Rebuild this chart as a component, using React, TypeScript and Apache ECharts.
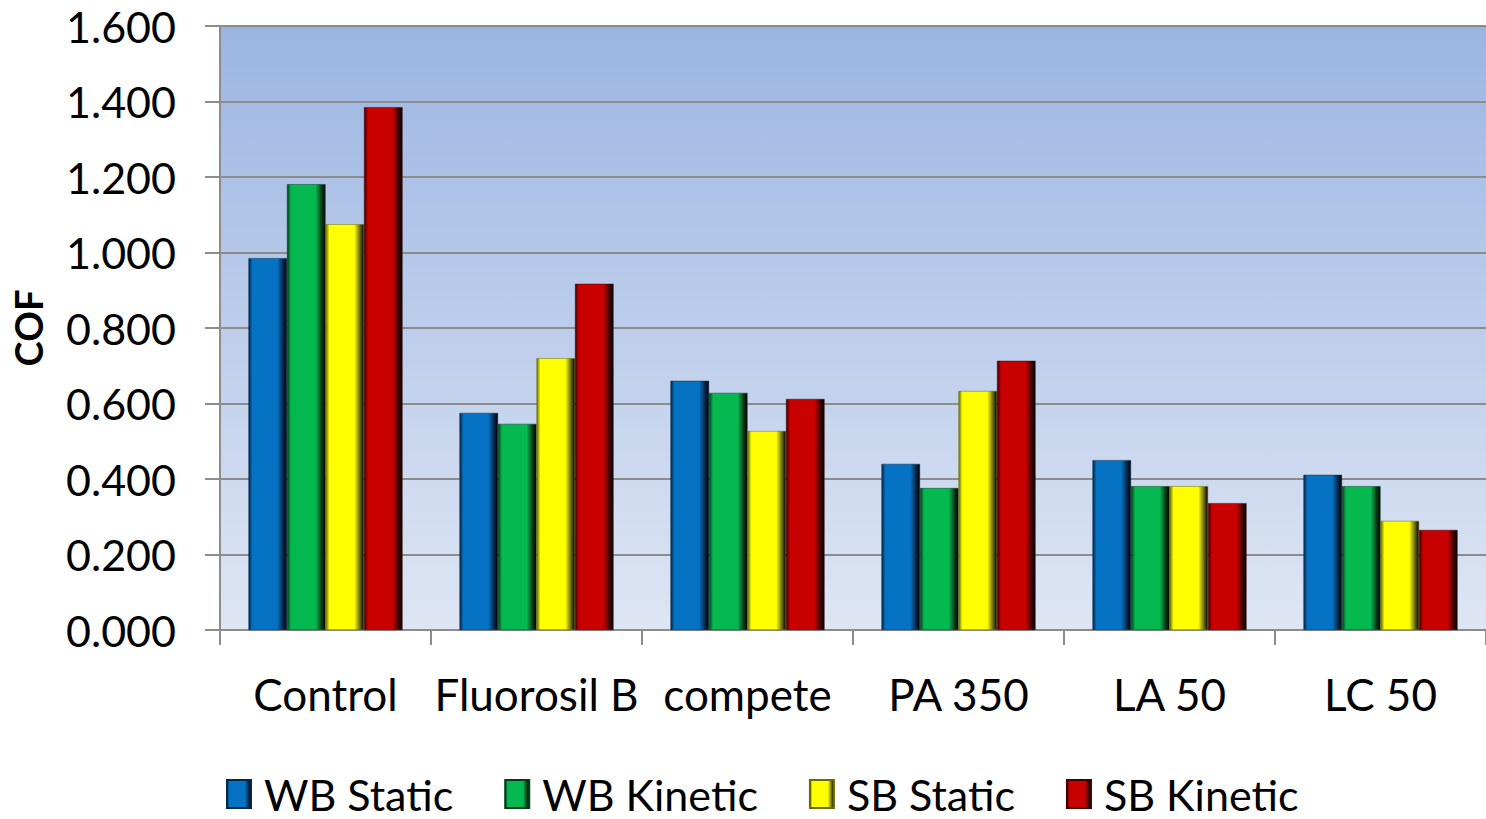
import React, { useEffect, useRef } from "react";
import * as echarts from "echarts";

const categories = ["Control", "Fluorosil B", "compete", "PA 350", "LA 50", "LC 50"];
const seriesNames = ["WB Static", "WB Kinetic", "SB Static", "SB Kinetic"];
const wbStatic = [0.985, 0.575, 0.66, 0.44, 0.45, 0.411];
const wbKinetic = [1.181, 0.546, 0.628, 0.376, 0.381, 0.381];
const sbStatic = [1.075, 0.72, 0.527, 0.633, 0.381, 0.289];
const sbKinetic = [1.385, 0.917, 0.612, 0.713, 0.336, 0.265];
const yTicks = [0, 0.2, 0.4, 0.6, 0.8, 1.0, 1.2, 1.4, 1.6];

const palette = [
  { base: "#0572C4", light: "#2a9cf0", dark: "#02284a" },
  { base: "#05B850", light: "#2ee07a", dark: "#013d1a" },
  { base: "#FFFF00", light: "#ffff80", dark: "#6b6b00" },
  { base: "#C80000", light: "#f03030", dark: "#400000" },
];

function barFill(p: { base: string; light: string; dark: string }) {
  return new echarts.graphic.LinearGradient(0, 0, 1, 0, [
    { offset: 0, color: p.dark },
    { offset: 0.1, color: p.base },
    { offset: 0.75, color: p.base },
    { offset: 0.9, color: p.dark },
    { offset: 1, color: "#000000" },
  ]);
}

export default function App() {
  const ref = useRef<HTMLDivElement>(null);
  useEffect(() => {
    if (!ref.current) return;
    const chart = echarts.init(ref.current, undefined, { renderer: "svg" });
    const font = "Lato, 'Open Sans', sans-serif";
    const data = [wbStatic, wbKinetic, sbStatic, sbKinetic];
    chart.setOption({
      animation: false,
      backgroundColor: "#ffffff",
      textStyle: { fontFamily: font },
      grid: {
        left: 220,
        right: 0,
        top: 26,
        bottom: 189,
        show: true,
        borderWidth: 0,
        backgroundColor: new echarts.graphic.LinearGradient(0, 0, 0, 1, [
          { offset: 0, color: "#9BB5E2" },
          { offset: 1, color: "#DEE6F4" },
        ]),
      },
      legend: {
        bottom: 2,
        left: 226,
        padding: 0,
        icon: "rect",
        itemWidth: 24,
        itemHeight: 28,
        itemGap: 51,
        data: seriesNames,
        textStyle: { fontSize: 43, lineHeight: 46, color: "#000", fontFamily: font, padding: [0, 0, 0, 8] },
      },
      xAxis: {
        type: "category",
        data: categories,
        axisLine: { show: true, lineStyle: { color: "#8c8c8c", width: 2 } },
        axisTick: { show: true, interval: 0, length: 15, lineStyle: { color: "#8c8c8c", width: 2 } },
        axisLabel: { interval: 0, fontSize: 44, color: "#000", margin: 42, fontFamily: font },
      },
      yAxis: {
        type: "value",
        min: 0,
        max: 1.6,
        interval: 0.2,
        name: "COF",
        nameLocation: "middle",
        nameGap: 173,
        nameRotate: 90,
        nameTextStyle: { fontSize: 38, fontWeight: "bold", color: "#000", fontFamily: font },
        axisLine: { show: true, lineStyle: { color: "#8c8c8c", width: 2 } },
        axisTick: { show: true, inside: false, length: 15, lineStyle: { color: "#8c8c8c", width: 2 } },
        splitLine: { show: true, lineStyle: { color: "#8c8c8c", width: 2 } },
        axisLabel: {
          fontSize: 43,
          color: "#000",
          margin: 44,
          fontFamily: font,
          formatter: (v: number) => {
            const t = yTicks.find((x) => Math.abs(x - v) < 1e-6);
            return (t !== undefined ? t : v).toFixed(3);
          },
        },
      },
      series: seriesNames.map((name, i) => ({
        name,
        type: "bar",
        data: data[i],
        barGap: "0%",
        barCategoryGap: "27%",
        itemStyle: {
          color: barFill(palette[i]),
          borderColor: palette[i].dark,
          borderWidth: 0.5,
        },
      })),
    });
    return () => chart.dispose();
  }, []);
  return (
    <div
      ref={ref}
      style={{ position: "fixed", left: 0, top: 0, width: 1486, height: 819 }}
    />
  );
}
